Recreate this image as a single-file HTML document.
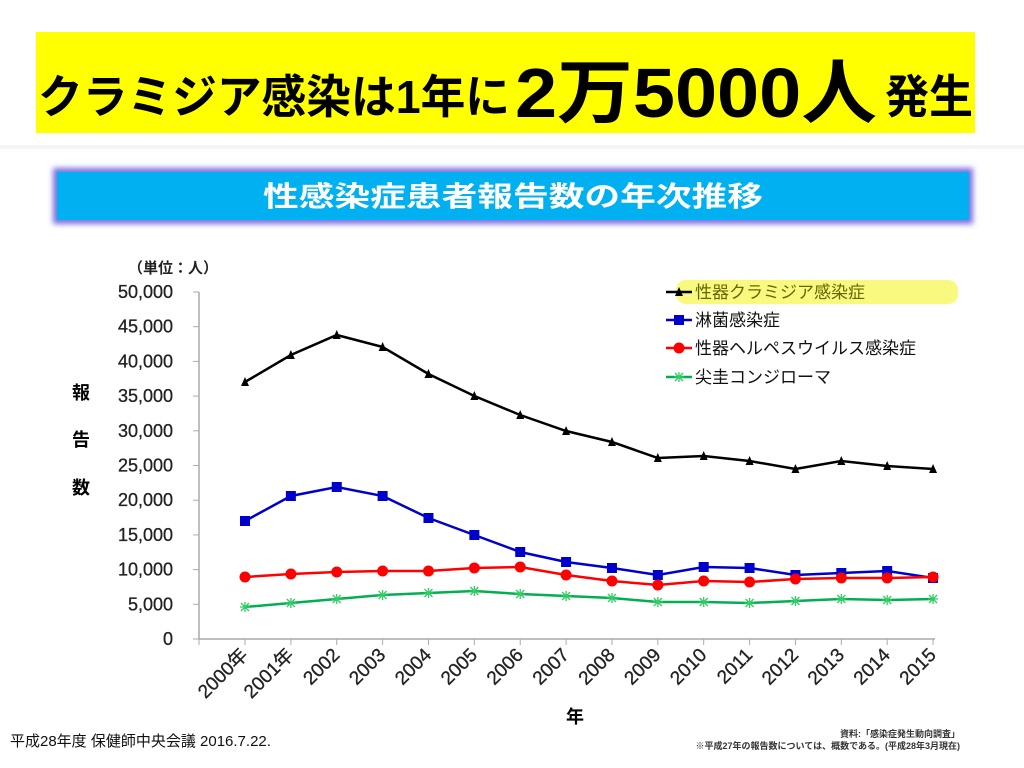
<!DOCTYPE html>
<html><head><meta charset="utf-8"><style>
html,body{margin:0;padding:0;background:#fff;width:1024px;height:768px;overflow:hidden}
svg{display:block}
text{font-family:"Liberation Sans","Noto Sans CJK JP",sans-serif}
</style></head><body>
<svg id="s" width="1024" height="768" xmlns="http://www.w3.org/2000/svg">
<defs>
<filter id="gl" x="-5%" y="-30%" width="110%" height="160%"><feGaussianBlur stdDeviation="3"/></filter>
</defs>
<rect x="36" y="32" width="939" height="101" fill="#ffff00"/>
<text x="38" y="113" font-size="46" font-weight="bold" textLength="472" lengthAdjust="spacingAndGlyphs" font-family="Noto Sans CJK JP">クラミジア感染は1年に</text>
<text x="515" y="117" font-size="70" font-weight="bold" textLength="362" lengthAdjust="spacingAndGlyphs" font-family="Noto Sans CJK JP">2万5000人</text>
<text x="885" y="113" font-size="46" font-weight="bold" textLength="88" lengthAdjust="spacingAndGlyphs" font-family="Noto Sans CJK JP">発生</text>
<rect x="0" y="145" width="1024" height="4" fill="#f4f4f4"/>
<rect x="53" y="168" width="920" height="56" fill="#7b6fe0" filter="url(#gl)"/>
<rect x="57" y="172" width="912" height="48" fill="#00b0f0"/>
<text x="513" y="206" font-size="28" font-weight="bold" fill="#fff" text-anchor="middle" font-family="Noto Sans CJK JP" textLength="500" lengthAdjust="spacingAndGlyphs">性感染症患者報告数の年次推移</text>
<text x="128" y="273" font-size="15" font-weight="bold" fill="#222" font-family="Noto Sans CJK JP">（単位：人）</text>
<text x="72" y="399" font-size="18" font-weight="bold" font-family="Noto Sans CJK JP">報</text>
<text x="72" y="446" font-size="18" font-weight="bold" font-family="Noto Sans CJK JP">告</text>
<text x="72" y="494" font-size="18" font-weight="bold" font-family="Noto Sans CJK JP">数</text>
<text x="566" y="723" font-size="18" font-weight="bold" font-family="Noto Sans CJK JP">年</text>
<rect x="676" y="280" width="282" height="24" rx="10" fill="#f8f86a" opacity="0.85"/>
<g id="g"></g>
<text x="10" y="746" font-size="15" fill="#111">平成28年度 保健師中央会議 2016.7.22.</text>
<text x="960" y="737" font-size="9" font-weight="bold" fill="#333" text-anchor="end" font-family="Noto Sans CJK JP">資料:「感染症発生動向調査」</text>
<text x="960" y="749" font-size="9" font-weight="bold" fill="#333" text-anchor="end" font-family="Noto Sans CJK JP">※平成27年の報告数については、概数である。(平成28年3月現在)</text>
</svg>
<script>
var g=document.getElementById('g'),h='';
var X0=245,DX=45.87,Y0=639,Y1=292;
h+='<line x1="199" y1="292" x2="199" y2="639" stroke="#aaa" stroke-width="1.5"/>';
h+='<line x1="199" y1="639" x2="935" y2="639" stroke="#aaa" stroke-width="1.5"/>';
for(var i=0;i<=10;i++){var y=Y0-(Y0-Y1)*i/10;
h+='<line x1="193" y1="'+y+'" x2="199" y2="'+y+'" stroke="#aaa"/>';
var v=i*5000;var t=v==0?'0':(v/1000)+',000';
h+='<text x="173" y="'+(y+6)+'" font-size="18" fill="#222" text-anchor="end" stroke="#222" stroke-width="0.3">'+t+'</text>';}
var yrs=['2000年','2001年','2002','2003','2004','2005','2006','2007','2008','2009','2010','2011','2012','2013','2014','2015'];
h+='<line x1="199" y1="639" x2="199" y2="645" stroke="#aaa"/>';
for(var i=0;i<16;i++){var x=X0+DX*i;
h+='<line x1="'+x+'" y1="639" x2="'+x+'" y2="645" stroke="#aaa"/>';
h+='<text transform="translate('+(x+4)+',656) rotate(-45)" font-size="19" fill="#222" stroke="#222" stroke-width="0.3" text-anchor="end" font-family="Liberation Sans,Noto Sans CJK JP,sans-serif">'+yrs[i]+'</text>';}
var S=[
['#000',[382,355,335,347,374,396,415,431,442,458,456,461,469,461,466,469],'tri'],
['#0000cc',[521,496,487,496,518,535,552,562,568,575,567,568,575,573,571,578],'sq'],
['#ff0000',[577,574,572,571,571,568,567,575,581,585,581,582,579,578,578,577],'ci'],
['#00b050',[607,603,599,595,593,591,594,596,598,602,602,603,601,599,600,599],'st']];
function mk(t,x,y,c){
if(t=='tri')return '<polygon points="'+(x-4)+','+(y+4)+' '+(x+4)+','+(y+4)+' '+x+','+(y-5)+'" fill="'+c+'"/>';
if(t=='sq')return '<rect x="'+(x-5)+'" y="'+(y-5)+'" width="10" height="10" fill="'+c+'"/>';
if(t=='ci')return '<circle cx="'+x+'" cy="'+y+'" r="5.5" fill="'+c+'"/>';
return '<path d="M'+(x-5)+' '+y+'h10M'+x+' '+(y-5)+'v10M'+(x-4)+' '+(y-4)+'l8 8M'+(x+4)+' '+(y-4)+'l-8 8" stroke="#3c6" stroke-width="1.3"/>';}
S.forEach(function(s){var p=s[1].map(function(y,i){return (X0+DX*i)+','+y}).join(' ');
h+='<polyline points="'+p+'" fill="none" stroke="'+s[0]+'" stroke-width="2.5"/>';
s[1].forEach(function(y,i){h+=mk(s[2],X0+DX*i,y,s[0]);});});
var L=['性器クラミジア感染症','淋菌感染症','性器ヘルペスウイルス感染症','尖圭コンジローマ'];
var ly=[292,320,348,377];
S.forEach(function(s,i){var y=ly[i];
h+='<line x1="666" y1="'+y+'" x2="692" y2="'+y+'" stroke="'+s[0]+'" stroke-width="2.5"/>'+mk(s[2],679,y,s[0]);
h+='<text x="695" y="'+(y+6)+'" font-size="17" fill="'+(i==0?'#666600':'#111')+'" font-family="Noto Sans CJK JP">'+L[i]+'</text>';});
g.innerHTML=h;
</script>
</body></html>
